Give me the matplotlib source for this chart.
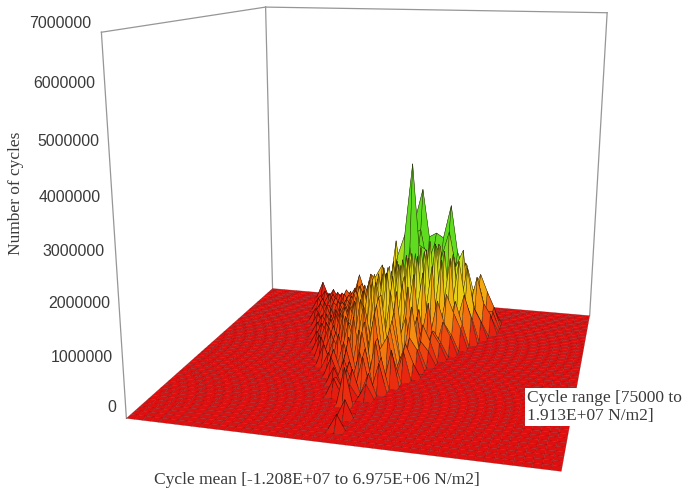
import numpy as np
import matplotlib
matplotlib.use('Agg')
import matplotlib.pyplot as plt
from matplotlib.colors import LinearSegmentedColormap

# Histogram axes
MEAN_MIN, MEAN_MAX = -1.208e7, 6.975e6
RANGE_MIN, RANGE_MAX = 75000, 1.913e7
Z_MAX = 7000000
N_MEAN = 50
N_RANGE = 45

z_ticks = [0, 1000000, 2000000, 3000000, 4000000, 5000000, 6000000, 7000000]

# Cycle counts (thousands), all other bins are zero
# row = range bin, start = first mean bin of the row
row_index = [3, 6, 9, 11, 12, 13, 14, 15, 16, 17, 18, 19, 20, 21, 22, 23, 24, 25, 26, 27, 28, 29, 30, 31, 32, 33, 34,
             35, 36, 37, 38, 39, 40, 41, 42]
row_start = [24, 24, 23, 21, 21, 21, 20, 20, 19, 18, 18, 17, 17, 16, 16, 15, 15, 14, 14, 14, 13, 13, 13, 12, 12, 11, 12,
             11, 10, 10, 10, 10, 10, 11, 9]
row_values = [
    [300],
    [350],
    [750],
    [350, 0, 250, 0, 300],
    [300, 0, 500, 0, 450],
    [0, 400, 0, 700, 0, 600],
    [350, 0, 500, 0, 800, 0, 650],
    [0, 450, 0, 650, 0, 900, 0, 750],
    [400, 0, 600, 0, 1000, 200, 900, 0, 500],
    [0, 500, 0, 800, 0, 1150, 0, 600, 900, 0, 600],
    [350, 0, 600, 0, 900, 200, 1300, 0, 1000, 200, 700, 300],
    [450, 0, 700, 0, 1100, 0, 600, 1400, 0, 1100, 300, 500, 0],
    [0, 500, 200, 900, 300, 1300, 0, 1500, 200, 1200, 0, 700, 450],
    [450, 0, 600, 0, 800, 300, 1100, 200, 1500, 300, 1600, 200, 1300, 400],
    [0, 500, 0, 900, 200, 1300, 300, 1700, 200, 1500, 400, 1000, 0, 500, 300],
    [350, 0, 600, 0, 700, 200, 1100, 400, 1500, 300, 1800, 300, 1600, 0, 800, 450],
    [0, 500, 0, 800, 200, 1300, 300, 1600, 400, 1800, 300, 1600, 200, 900, 0, 600, 350],
    [300, 0, 600, 0, 900, 200, 1400, 300, 1700, 400, 1900, 500, 1700, 200, 1000, 0, 550, 300],
    [0, 450, 0, 700, 200, 1000, 300, 1500, 400, 1800, 500, 1900, 400, 1700, 200, 1100, 0, 700, 400],
    [350, 0, 600, 0, 800, 300, 1200, 400, 1600, 500, 1900, 400, 2000, 500, 1700, 200, 1100, 600, 350],
    [300, 0, 500, 0, 700, 200, 1000, 300, 1300, 500, 1700, 400, 1900, 600, 2000, 500, 1800, 200, 1200, 800, 450],
    [0, 450, 0, 600, 200, 800, 300, 1100, 400, 1400, 500, 1800, 600, 2000, 500, 2100, 400, 1900, 300, 1000, 500],
    [350, 0, 500, 0, 700, 300, 1000, 400, 1300, 500, 1500, 600, 1900, 500, 2100, 600, 2200, 500, 1900, 400, 1100, 600],
    [300, 0, 450, 0, 600, 200, 900, 300, 1100, 400, 1400, 500, 1600, 600, 1900, 700, 2200, 600, 2000, 500, 1800, 900, 500],
    [0, 450, 0, 500, 200, 800, 300, 1000, 400, 1200, 500, 1400, 600, 2000, 700, 1900, 800, 2100, 700, 1900, 600, 1600, 700, 400],
    [300, 0, 400, 0, 500, 200, 800, 300, 1000, 400, 1300, 600, 1700, 2200, 3820, 2000, 1900, 700, 2000, 500, 1700, 300, 1200, 600, 300],
    [400, 0, 450, 200, 600, 300, 900, 400, 1100, 500, 1300, 600, 1700, 2200, 2300, 1500, 2000, 1700, 2300, 1500, 1900, 500, 1300, 700, 450],
    [300, 0, 350, 200, 450, 300, 800, 400, 1000, 500, 1200, 600, 1700, 700, 2500, 3180, 2100, 2200, 2100, 2850, 1800, 1400, 700, 1000, 500, 300],
    [0, 350, 0, 400, 200, 500, 300, 800, 400, 1000, 1300, 600, 1900, 800, 1900, 1000, 2300, 1100, 2100, 1000, 2300, 900, 1500, 700, 1000, 400, 400],
    [300, 0, 350, 0, 450, 200, 700, 300, 1000, 400, 1100, 500, 1300, 600, 1500, 700, 1700, 800, 1700, 700, 1500, 600, 1400, 800, 1200, 800, 450],
    [300, 0, 350, 0, 500, 300, 900, 400, 900, 500, 900, 400, 1000, 500, 1200, 600, 1300, 500, 1100, 500, 1000, 400, 800, 300, 650, 450, 300],
    [0, 300, 0, 350, 200, 500, 300, 500, 300, 600, 300, 600, 300, 700, 300, 700, 300, 600, 300, 500, 300, 400, 300, 350, 300, 550],
    [300, 0, 300, 0, 350, 0, 400, 0, 350, 200, 350, 0, 300, 0, 350, 0, 300, 0, 300, 0, 250, 0, 300, 0, 250],
    [300],
    [400],
]

counts = np.zeros((N_RANGE, N_MEAN))
for row, start, vals in zip(row_index, row_start, row_values):
    counts[row, start:start + len(vals)] = np.array(vals) * 1000.0

W, H = 685, 491

fig = plt.figure(figsize=(W / 100, H / 100), dpi=100)
ax = fig.add_axes([0, 0, 1, 1], projection='3d')
ax.set_axis_off()
ax.computed_zorder = False

# The view of the box is fixed by where its corners lie in the picture (unit box -> pixels)
corners_box = [(0, 0, 0), (1, 0, 0), (1, 1, 0), (0, 1, 0), (0, 0, 1), (0, 1, 1), (1, 1, 1)]
corners_px = [(127, 418), (561, 472), (590, 315), (272, 289), (101, 32), (266, 7), (607, 13)]

A, b = [], []
for (X, Y, Z), (px, py) in zip(corners_box, corners_px):
    A.append([X, Y, Z, 1, 0, 0, 0, 0, -px * X, -px * Y, -px * Z])
    b.append(px)
    A.append([0, 0, 0, 0, X, Y, Z, 1, -py * X, -py * Y, -py * Z])
    b.append(py)
s = np.linalg.lstsq(np.array(A, float), np.array(b, float), rcond=None)[0]
row_px = s[:4]
row_py = s[4:8]
row_w = np.array([s[8], s[9], s[10], 1.0])


def fixed_proj():
    # pixels -> the 2D data coordinates of the axes
    T = ax.transData.inverted().get_matrix()
    row_dy = H * row_w - row_py
    row_x = T[0, 0] * row_px + T[0, 1] * row_dy + T[0, 2] * row_w
    row_y = T[1, 0] * row_px + T[1, 1] * row_dy + T[1, 2] * row_w
    M = np.array([row_x, row_y, [0, 0, 0, -1], row_w])
    world = np.array([
        [1 / (MEAN_MAX - MEAN_MIN), 0, 0, -MEAN_MIN / (MEAN_MAX - MEAN_MIN)],
        [0, 1 / (RANGE_MAX - RANGE_MIN), 0, -RANGE_MIN / (RANGE_MAX - RANGE_MIN)],
        [0, 0, 1 / Z_MAX, 0],
        [0, 0, 0, 1],
    ])
    return M @ world


ax.get_proj = fixed_proj

mean_edges = np.linspace(MEAN_MIN, MEAN_MAX, N_MEAN)
range_edges = np.linspace(RANGE_MIN, RANGE_MAX, N_RANGE)
XX, YY = np.meshgrid(mean_edges, range_edges)

heat = LinearSegmentedColormap.from_list('heat', [
    (0.0, '#e00f0f'), (0.10, '#ea2a10'), (0.36, '#f57a0f'), (0.60, '#f0c812'),
    (0.78, '#d8e020'), (1.0, '#60dc20')])

surf = ax.plot_surface(XX, YY, counts, rstride=1, cstride=1, cmap=heat, vmin=0, vmax=1700000,
                       edgecolor=(0.3, 0, 0, 0.4), linewidth=0.35, antialiased=True, shade=False, zorder=2)
surf.set_clip_on(False)

# Dark red grid on the flat floor, nearly black on the peaks
cell_top = counts[:-1, :-1] + counts[:-1, 1:] + counts[1:, :-1] + counts[1:, 1:]
edge_rgba = np.tile([0.3, 0, 0, 0.4], (cell_top.size, 1))
edge_rgba[cell_top.ravel() > 0] = [0.08, 0.03, 0, 0.65]
surf.set_edgecolor(edge_rgba)

# Walls of the box
box_color = '#969696'
x0, x1 = MEAN_MIN, MEAN_MAX
y0, y1 = RANGE_MIN, RANGE_MAX
ax.plot([x0, x0], [y0, y0], [0, Z_MAX], color=box_color, lw=0.9, clip_on=False, zorder=1)
ax.plot([x0, x1], [y1, y1], [Z_MAX, Z_MAX], color=box_color, lw=0.9, clip_on=False, zorder=1)
ax.plot([x0, x0], [y0, y1], [Z_MAX, Z_MAX], color=box_color, lw=0.9, clip_on=False, zorder=1)
ax.plot([x0, x0], [y1, y1], [0, Z_MAX], color=box_color, lw=0.9, clip_on=False, zorder=1)
ax.plot([x1, x1], [y1, y1], [0, Z_MAX], color=box_color, lw=0.9, clip_on=False, zorder=1)

# Labels
text_color = '#3a3a3a'
tick_right = [116, 113, 110, 105, 101, 99, 95, 91]
tick_y = [408, 357, 303, 252, 198, 141, 83, 23]
for val, xr, yp in zip(z_ticks, tick_right, tick_y):
    fig.text(xr / W, 1 - yp / H, str(val), ha='right', va='center', fontsize=11.4,
             family='Liberation Sans', color=text_color)

fig.text(16 / W, 1 - 193 / H, 'Number of cycles', rotation=90, ha='center', va='center', fontsize=12.5,
         family='Liberation Serif', color=text_color)
fig.text(317 / W, 1 - 480 / H, 'Cycle mean [-1.208E+07 to 6.975E+06 N/m2]', ha='center', va='center',
         fontsize=12.6, family='Liberation Serif', color=text_color)
fig.text(527 / W, 1 - 407 / H, 'Cycle range [75000 to\n1.913E+07 N/m2]', ha='left', va='center', fontsize=12.5,
         family='Liberation Serif', color=text_color, linespacing=1.2,
         bbox=dict(facecolor='white', edgecolor='none', pad=1.5))

fig.savefig('out.png', dpi=100)
